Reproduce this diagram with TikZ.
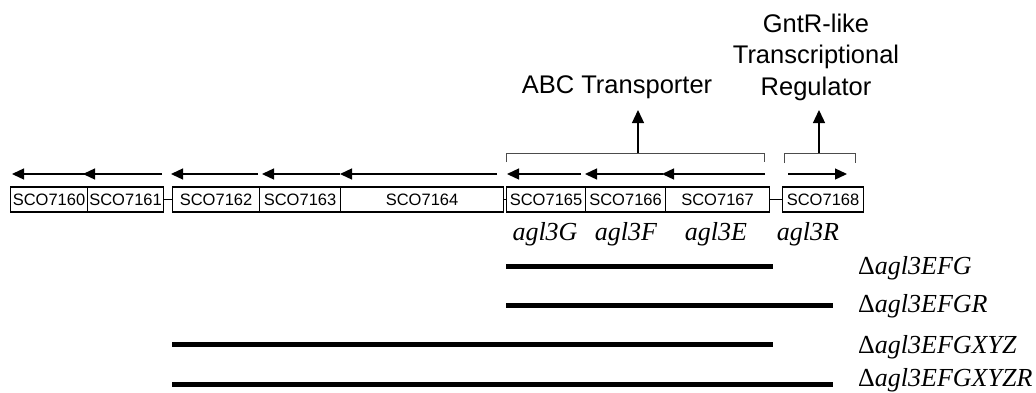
\documentclass[tikz,border=0pt]{standalone}
\usepackage{fontspec}
\setmainfont{Liberation Sans}
\newfontfamily\serifit{Liberation Serif}
\usetikzlibrary{arrows.meta}
\begin{document}
\begin{tikzpicture}[x=1pt,y=-1pt,
  gbox/.style={draw,line width=1.1pt,rectangle,inner sep=0pt,minimum height=25pt,anchor=west,
    font=\fontsize{16.5}{18}\selectfont},
  gene/.style={line width=1.3pt,-{Triangle[length=12pt,width=11pt]}},
  up/.style={line width=1.3pt,-{Triangle[length=13pt,width=12pt]}},
  link/.style={line width=1.1pt},
  brk/.style={line width=1pt,draw=black!70},
  big/.style={font=\fontsize{25.5}{31.5}\selectfont,inner sep=0pt,align=center},
  glab/.style={font=\serifit\itshape\fontsize{26}{30}\selectfont,inner sep=0pt,anchor=base},
  dlab/.style={font=\serifit\itshape\fontsize{26}{30}\selectfont,inner sep=0pt,anchor=base west},
  del/.style={line width=5pt}]
\useasboundingbox (0,0) rectangle (1036,392);

% gene boxes
\node[gbox,minimum width=77pt]  (b7160) at (10,199.5) {SCO7160};
\node[gbox,minimum width=76pt]  (b7161) at (87,199.5) {SCO7161};
\node[gbox,minimum width=87pt]  (b7162) at (172,199.5) {SCO7162};
\node[gbox,minimum width=81pt]  (b7163) at (259,199.5) {SCO7163};
\node[gbox,minimum width=163pt] (b7164) at (340,199.5) {SCO7164};
\node[gbox,minimum width=79pt]  (b7165) at (506,199.5) {SCO7165};
\node[gbox,minimum width=80pt]  (b7166) at (585,199.5) {SCO7166};
\node[gbox,minimum width=104pt] (b7167) at (665,199.5) {SCO7167};
\node[gbox,minimum width=81pt]  (b7168) at (782,199.5) {SCO7168};

% intergenic links
\draw[link] (b7161.east) -- (b7162.west);
\draw[link] (b7164.east) -- (b7165.west);
\draw[link] (b7167.east) -- (b7168.west);

% direction arrows
\draw[gene] (87,174) -- (12,174);
\draw[gene] (162,174) -- (83,174);
\draw[gene] (258,174) -- (171,174);
\draw[gene] (340,174) -- (262,174);
\draw[gene] (497,174) -- (340,174);
\draw[gene] (581,174) -- (507,174);
\draw[gene] (663,174) -- (585,174);
\draw[gene] (765,174) -- (662,174);
\draw[gene] (788,174) -- (847,174);

% brackets
\draw[brk] (506,162) -- (506,153) -- (764,153) -- (764,162);
\draw[brk] (784,163) -- (784,153) -- (855,153) -- (855,163);
\coordinate (abcmid) at (638,153);
\coordinate (abctip) at (638,110);
\coordinate (gntmid) at (819,153);
\coordinate (gnttip) at (819,110);
\draw[up] (abcmid) -- (abctip);
\draw[up] (gntmid) -- (gnttip);

% function labels
\node[big,anchor=base] (abc) at (617,93) {ABC Transporter};
\node[big,anchor=base] (gntr) at (816,95) {GntR-like\\Transcriptional\\Regulator};

% gene names
\node[glab] (gG) at (545,240) {agl3G};
\node[glab] (gF) at (626,240) {agl3F};
\node[glab] (gE) at (716,240) {agl3E};
\node[glab] (gR) at (808,240) {agl3R};

% deletions
\draw[del] (506,266) -- (773,266);
\draw[del] (506,305) -- (833,305);
\draw[del] (172,344) -- (773,344);
\draw[del] (172,384) -- (833,384);
\node[dlab] (d1) at (858,274) {{\upshape Δ}agl3EFG};
\node[dlab] (d2) at (858,312) {{\upshape Δ}agl3EFGR};
\node[dlab] (d3) at (858,353) {{\upshape Δ}agl3EFGXYZ};
\node[dlab] (d4) at (858,386) {{\upshape Δ}agl3EFGXYZR};
\end{tikzpicture}
\end{document}
